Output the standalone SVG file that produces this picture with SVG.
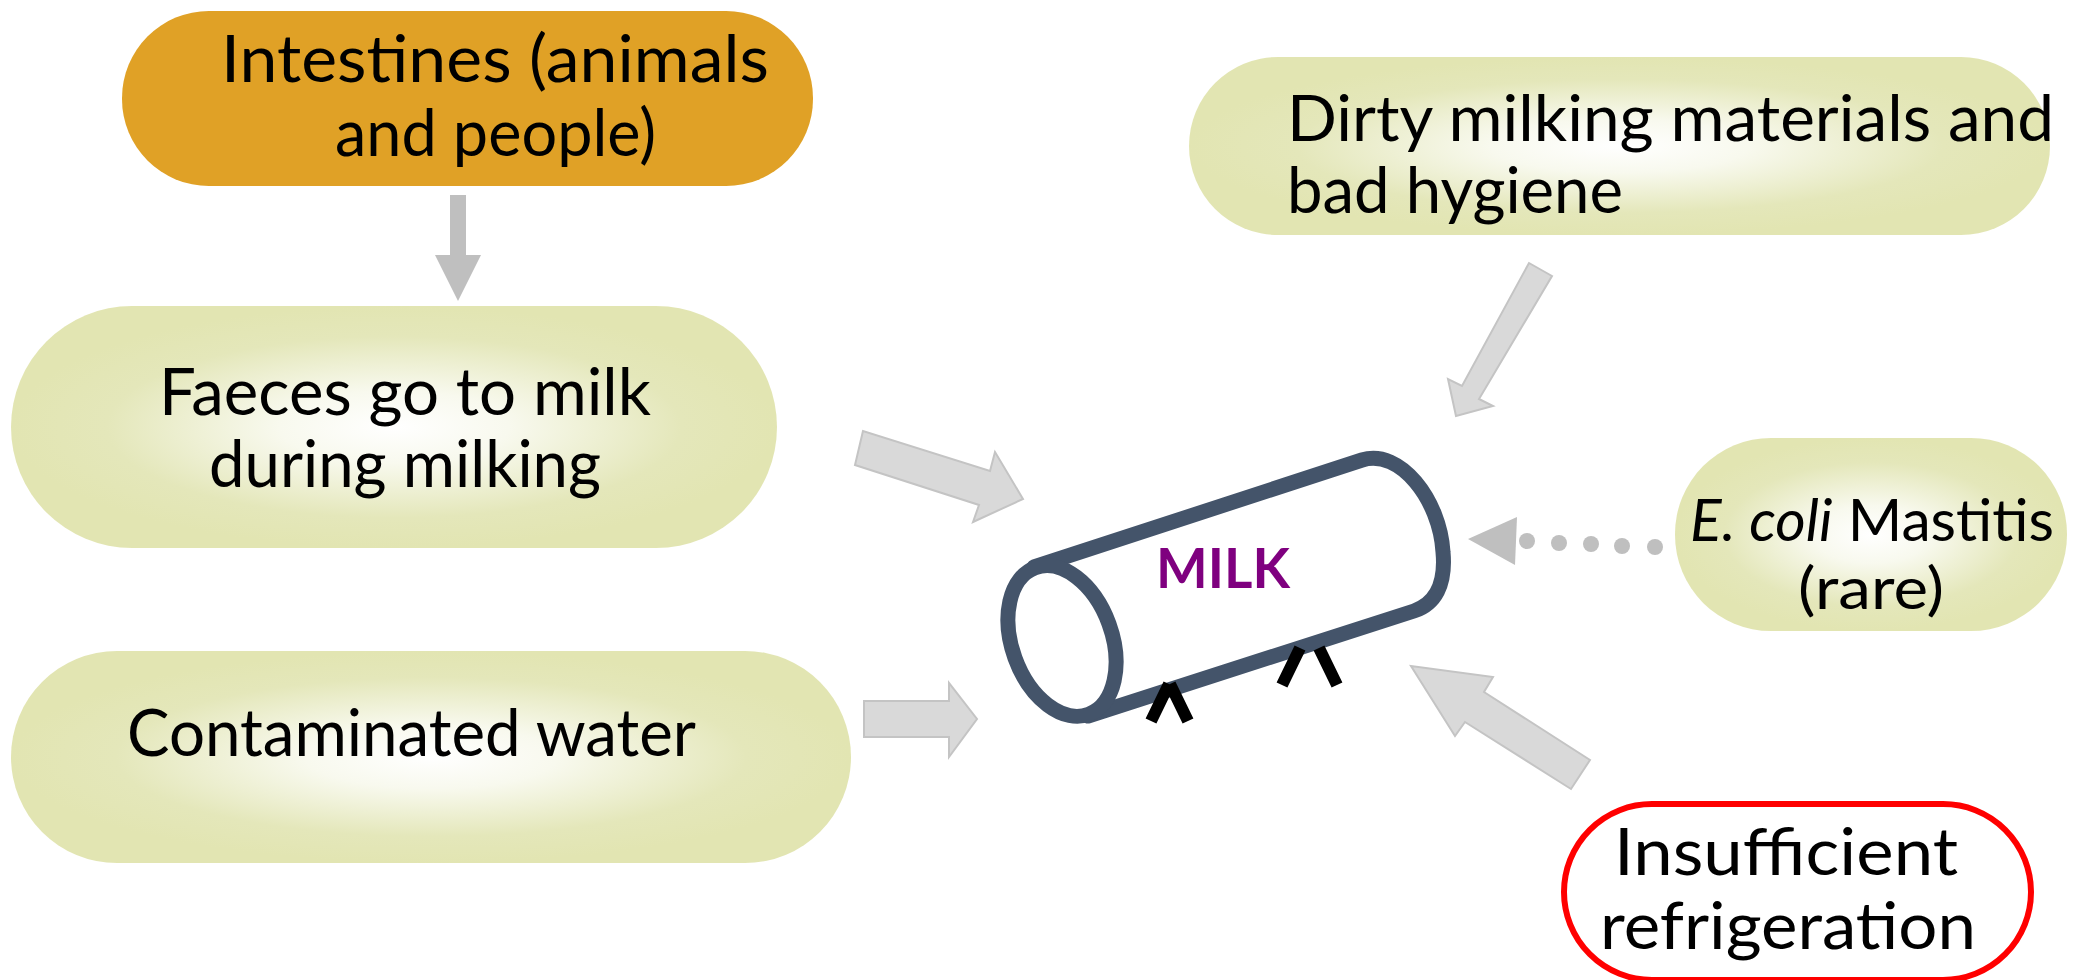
<svg xmlns="http://www.w3.org/2000/svg" width="2079" height="980" viewBox="0 0 2079 980">
<style>
.t{font-family:"Lato","Noto Sans",sans-serif;font-size:66px;fill:#000}
.s{font-size:58px}
.d{font-size:64px}
.a{fill:#d9d9d9;stroke:#c4c4c4;stroke-width:2}
.b{fill:#bfbfbf}
.g{fill:url(#glow)}
.leg{stroke:#000;stroke-width:12;fill:none}
.cyl{fill:#fff;stroke:#44546a;stroke-width:15;stroke-linecap:round;stroke-linejoin:round}
</style>
<defs>
<radialGradient id="glow" cx="0.5" cy="0.5" r="0.5">
<stop offset="0" stop-color="#fff"/>
<stop offset="0.3" stop-color="#f8f9ee"/>
<stop offset="0.75" stop-color="#e4e7ba"/>
<stop offset="1" stop-color="#e2e5b2"/>
</radialGradient>
</defs>
<rect width="2079" height="980" fill="#fff"/>
<g id="connectors">
<polygon class="b" points="450,195 466,195 466,255 481,255 458,301 435,255 450,255"/>
<polygon class="a" points="863,431 855,465 979,505 973,522 1023,499 995,452 990,471"/>
<polygon class="a" points="864,701 949,701 949,683 977,719 949,757 949,737 864,737"/>
<polygon class="a" points="1529,263 1552,276 1479,399 1493,406 1456,416 1448,379 1462,386"/>
<polygon class="a" points="1590,760 1571,789 1465,722 1455,736 1411,666 1493,677 1484,692"/>
<g id="dotted">
<polygon class="b" points="1468,539 1517,517 1515,565"/>
<ellipse class="b" cx="1527" cy="541" rx="8" ry="8"/>
<ellipse class="b" cx="1559" cy="543" rx="8" ry="8"/>
<ellipse class="b" cx="1591" cy="544" rx="8" ry="8"/>
<ellipse class="b" cx="1622" cy="546" rx="8" ry="8"/>
<ellipse class="b" cx="1655" cy="547" rx="8" ry="8"/>
</g>
</g>
<g id="intestines">
<rect x="122" y="11" width="691" height="175" rx="87" fill="#e0a126"/>
<text class="t" x="221" y="82" textLength="548" lengthAdjust="spacingAndGlyphs">Intestines (animals</text>
<text class="t" x="335" y="156" textLength="321" lengthAdjust="spacingAndGlyphs">and people)</text>
</g>
<g id="faeces">
<rect class="g" x="11" y="306" width="766" height="242" rx="121"/>
<text class="t" x="159" y="415" textLength="492" lengthAdjust="spacingAndGlyphs">Faeces go to milk</text>
<text class="t" x="209" y="487" textLength="392" lengthAdjust="spacingAndGlyphs">during milking</text>
</g>
<g id="water">
<rect class="g" x="11" y="651" width="840" height="212" rx="106"/>
<text class="t" x="127" y="756" textLength="569" lengthAdjust="spacingAndGlyphs">Contaminated water</text>
</g>
<g id="dirty">
<rect class="g" x="1189" y="57" width="861" height="178" rx="89"/>
<text class="t d" x="1287" y="141" textLength="767" lengthAdjust="spacingAndGlyphs">Dirty milking materials and</text>
<text class="t d" x="1287" y="213" textLength="336" lengthAdjust="spacingAndGlyphs">bad hygiene</text>
</g>
<g id="mastitis">
<rect class="g" x="1675" y="438" width="392" height="193" rx="96"/>
<text class="t s" x="1690" y="541" textLength="364" lengthAdjust="spacingAndGlyphs"><tspan font-style="italic">E. coli</tspan> Mastitis</text>
<text class="t s" x="1798" y="609" textLength="146" lengthAdjust="spacingAndGlyphs">(rare)</text>
</g>
<g id="refrigeration">
<rect x="1564" y="804" width="467" height="176" rx="88" fill="#fff" stroke="#f00" stroke-width="6"/>
<text class="t" x="1614" y="875" textLength="344" lengthAdjust="spacingAndGlyphs">Insufficient</text>
<text class="t" x="1600" y="949" textLength="376" lengthAdjust="spacingAndGlyphs">refrigeration</text>
</g>
<g id="milk">
<path class="cyl" d="M1034,567 L1362,460 C1400,448 1440,500 1443,552 C1446,585 1435,604 1414,611 L1088,716"/>
<ellipse class="cyl" cx="1062" cy="641" rx="50" ry="78" transform="rotate(-20 1062 641)"/>
<text x="1156" y="588" textLength="134" lengthAdjust="spacingAndGlyphs" font-family="Lato,'Noto Sans',sans-serif" font-weight="700" font-size="56" fill="#7f007f">MILK</text>
<path class="leg" d="M1151,721 L1169,684 M1188,721 L1170,684 M1282,685 L1300,648 M1337,685 L1319,648"/>
</g>
</svg>
